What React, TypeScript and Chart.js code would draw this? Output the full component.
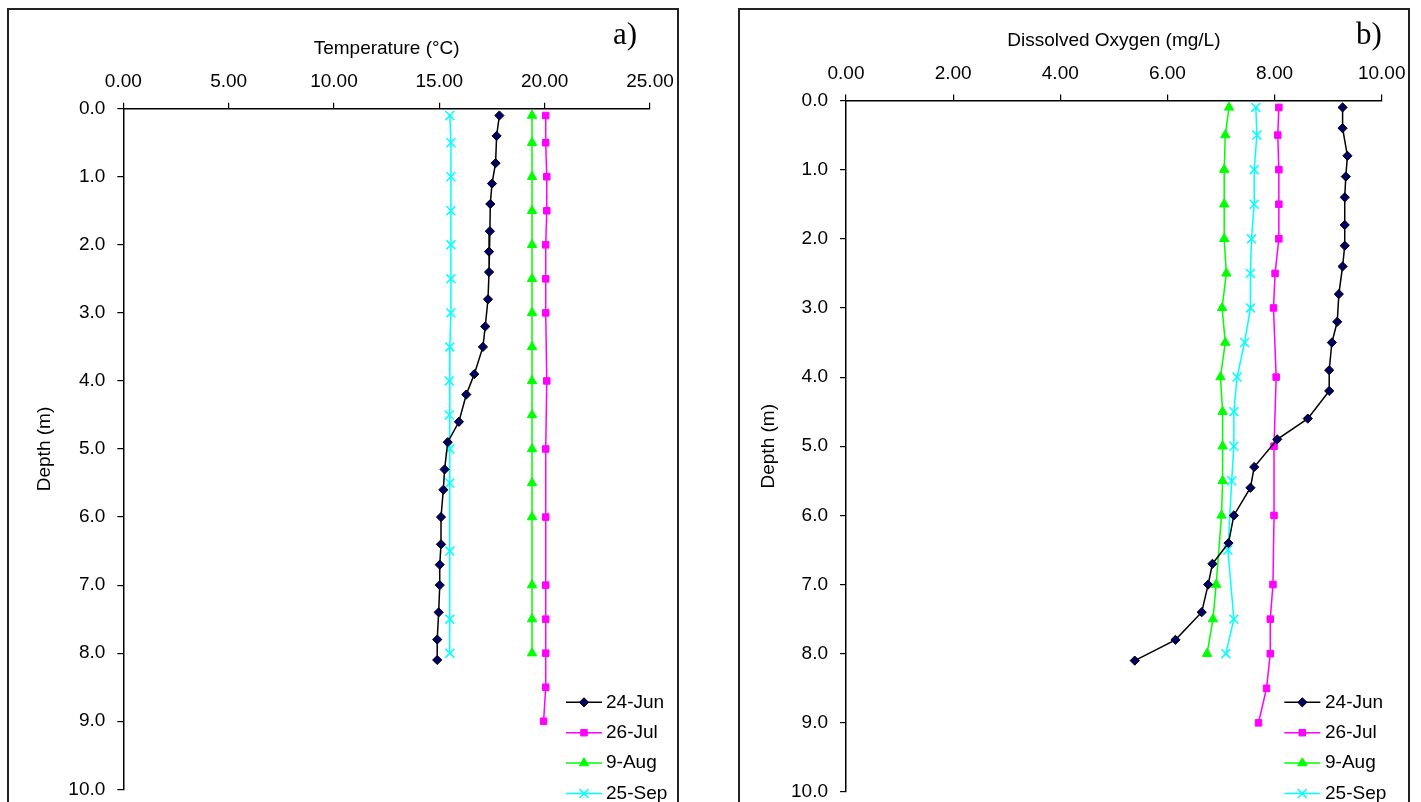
import React, { useEffect, useRef } from "react";
import { Chart, registerables } from "chart.js";
import { drawPoint } from "chart.js/helpers";

Chart.register(...registerables);

// ---------- data ----------
const SERIES_LABELS = ["24-Jun", "26-Jul", "9-Aug", "25-Sep"];

const DEPTH_JUN = [0.1, 0.4, 0.8, 1.1, 1.4, 1.8, 2.1, 2.4, 2.8, 3.2, 3.5, 3.9, 4.2, 4.6, 4.9, 5.3, 5.6, 6.0, 6.4, 6.7, 7.0, 7.4, 7.8, 8.1];
const DEPTH_JUL = [0.1, 0.5, 1.0, 1.5, 2.0, 2.5, 3.0, 4.0, 5.0, 6.0, 7.0, 7.5, 8.0, 8.5, 9.0];
const DEPTH_AUG = [0.1, 0.5, 1.0, 1.5, 2.0, 2.5, 3.0, 3.5, 4.0, 4.5, 5.0, 5.5, 6.0, 7.0, 7.5, 8.0];
const DEPTH_SEP = [0.1, 0.5, 1.0, 1.5, 2.0, 2.5, 3.0, 3.5, 4.0, 4.5, 5.0, 5.5, 6.5, 7.5, 8.0];

const TEMP_JUN = [17.85, 17.72, 17.67, 17.5, 17.42, 17.4, 17.36, 17.36, 17.31, 17.18, 17.07, 16.66, 16.28, 15.93, 15.4, 15.25, 15.19, 15.08, 15.08, 15.02, 15.02, 14.97, 14.9, 14.9];
const TEMP_JUL = [20.05, 20.05, 20.1, 20.1, 20.05, 20.05, 20.05, 20.1, 20.05, 20.05, 20.05, 20.05, 20.05, 20.05, 19.95];
const TEMP_AUG = [19.4, 19.4, 19.4, 19.4, 19.4, 19.4, 19.4, 19.4, 19.4, 19.4, 19.4, 19.4, 19.4, 19.4, 19.4, 19.4];
const TEMP_SEP = [15.5, 15.55, 15.55, 15.55, 15.55, 15.55, 15.55, 15.5, 15.47, 15.47, 15.5, 15.5, 15.5, 15.5, 15.5];

const DO_JUN = [9.27, 9.27, 9.36, 9.33, 9.31, 9.31, 9.31, 9.27, 9.2, 9.17, 9.07, 9.02, 9.02, 8.62, 8.05, 7.62, 7.55, 7.24, 7.14, 6.84, 6.76, 6.64, 6.15, 5.39];
const DO_JUL = [8.08, 8.06, 8.08, 8.08, 8.08, 8.01, 7.98, 8.03, 7.99, 7.99, 7.97, 7.92, 7.92, 7.85, 7.7];
const DO_AUG = [7.15, 7.08, 7.06, 7.06, 7.06, 7.1, 7.02, 7.08, 6.99, 7.03, 7.03, 7.03, 7.01, 6.91, 6.85, 6.74];
const DO_SEP = [7.65, 7.67, 7.62, 7.62, 7.57, 7.55, 7.55, 7.44, 7.3, 7.24, 7.24, 7.2, 7.13, 7.24, 7.09];

const TEMP_TICKS = { min: 0, max: 25, step: 5 };
const DO_TICKS = { min: 0, max: 10, step: 2 };
const DEPTH_TICKS = { min: 0, max: 10, step: 1 };

// ---------- styles ----------
const SANS = "'Liberation Sans', Arial, sans-serif";
const CANVAS_H = 840;
const SERIES_STYLE = [
  { line: "#000000", fill: "#000066", border: "#000000", style: "rectRot", radius: 4.6, bw: 1, lw: 1.5 },
  { line: "#FF00FF", fill: "#FF00FF", border: "#FF00FF", style: "rect", radius: 4.6, bw: 1, lw: 1.5 },
  { line: "#00FF00", fill: "#00FF00", border: "#00FF00", style: "triangle", radius: 5.4, bw: 1, lw: 1.5 },
  { line: "#00FFFF", fill: "#00FFFF", border: "#00FFFF", style: "crossRot", radius: 6.3, bw: 1.5, lw: 1.5 },
];

const pts = (xs: number[], ys: number[]) => xs.map((x, i) => ({ x, y: ys[i] }));

const panelDecor = {
  id: "panelDecor",
  afterDraw(chart: any, _args: any, opts: any) {
    const ctx = chart.ctx;
    ctx.save();
    ctx.fillStyle = "#000";
    ctx.font = opts.labelFont;
    ctx.textAlign = "left";
    ctx.textBaseline = "alphabetic";
    ctx.fillText(opts.label, opts.labelX, opts.labelY);
    chart.data.datasets.forEach((ds: any, i: number) => {
      const y = opts.legendTop + i * opts.legendGap;
      const x0 = opts.legendX;
      ctx.strokeStyle = ds.borderColor;
      ctx.lineWidth = ds.borderWidth;
      ctx.beginPath();
      ctx.moveTo(x0, y);
      ctx.lineTo(x0 + opts.legendLine, y);
      ctx.stroke();
      ctx.fillStyle = ds.pointBackgroundColor;
      ctx.strokeStyle = ds.pointBorderColor;
      ctx.lineWidth = ds.pointBorderWidth;
      drawPoint(ctx, { pointStyle: ds.pointStyle, radius: ds.pointRadius, rotation: 0, borderWidth: ds.pointBorderWidth } as any, x0 + opts.legendLine / 2, y);
      ctx.fillStyle = "#000";
      ctx.font = `19px ${SANS}`;
      ctx.textBaseline = "middle";
      ctx.fillText(ds.label, x0 + opts.legendLine + opts.textGap, y);
    });
    ctx.restore();
  },
};

type PanelCfg = {
  left: number;
  width: number;
  xTitle: string;
  xTicks: { min: number; max: number; step: number };
  values: number[][];
  yScaleWidth: number;
  xScaleHeight: number;
  padRight: number;
  chartBottom: number;
  yTitlePad: number;
  xTitlePad: number;
  label: string;
  labelX: number;
  legendX: number;
  textGap: number;
};

const DEPTHS = [DEPTH_JUN, DEPTH_JUL, DEPTH_AUG, DEPTH_SEP];

function Panel({ cfg }: { cfg: PanelCfg }) {
  const ref = useRef<HTMLCanvasElement>(null);
  useEffect(() => {
    if (!ref.current) return;
    const datasets = SERIES_LABELS.map((label, i) => {
      const s = SERIES_STYLE[i];
      return {
        label,
        data: pts(cfg.values[i], DEPTHS[i]),
        showLine: true,
        borderColor: s.line,
        borderWidth: s.lw,
        pointStyle: s.style,
        pointRadius: s.radius,
        pointBackgroundColor: s.fill,
        pointBorderColor: s.border,
        pointBorderWidth: s.bw,
        clip: false,
      };
    });
    const tickFont = { family: SANS, size: 19, lineHeight: 1 };
    const titleFont = { family: SANS, size: 19, lineHeight: 1.2 };
    const chart = new Chart(ref.current, {
      type: "scatter",
      data: { datasets } as any,
      plugins: [panelDecor as any],
      options: {
        animation: false,
        responsive: false,
        devicePixelRatio: 1,
        events: [],
        layout: { padding: { left: 0, top: 0, right: cfg.padRight, bottom: CANVAS_H - cfg.chartBottom } },
        plugins: {
          legend: { display: false },
          tooltip: { enabled: false },
          panelDecor: {
            label: cfg.label,
            labelX: cfg.labelX,
            labelY: 43.5,
            labelFont: `31px 'Liberation Serif', 'Times New Roman', serif`,
            legendX: cfg.legendX,
            legendLine: 36,
            legendTop: 702.3,
            legendGap: 30.4,
            textGap: cfg.textGap,
          },
        } as any,
        scales: {
          x: {
            type: "linear",
            position: "top",
            min: cfg.xTicks.min,
            max: cfg.xTicks.max,
            afterFit: (s: any) => { s.height = cfg.xScaleHeight; },
            ticks: {
              stepSize: cfg.xTicks.step,
              color: "#000",
              font: tickFont,
              padding: 11.5,
              maxRotation: 0,
              callback: (v: any) => Number(v).toFixed(2),
            },
            grid: { display: true, drawOnChartArea: false, drawTicks: true, tickLength: 6, color: "#000", lineWidth: 1.2 },
            border: { display: true, color: "#000", width: 1.5 },
            title: { display: true, text: cfg.xTitle, color: "#000", font: titleFont, padding: { top: cfg.xTitlePad, bottom: 0 } },
          },
          y: {
            type: "linear",
            position: "left",
            reverse: true,
            min: DEPTH_TICKS.min,
            max: DEPTH_TICKS.max,
            afterFit: (s: any) => { s.width = cfg.yScaleWidth; },
            ticks: {
              stepSize: DEPTH_TICKS.step,
              color: "#000",
              font: tickFont,
              padding: 12,
              callback: (v: any) => Number(v).toFixed(1),
            },
            grid: { display: true, drawOnChartArea: false, drawTicks: true, tickLength: 6, color: "#000", lineWidth: 1.2 },
            border: { display: true, color: "#000", width: 1.5 },
            title: { display: true, text: "Depth (m)", color: "#000", font: titleFont, padding: { top: cfg.yTitlePad, bottom: 0 } },
          },
        },
      } as any,
    });
    return () => chart.destroy();
  }, [cfg]);
  return (
    <canvas
      ref={ref}
      width={cfg.width}
      height={CANVAS_H}
      style={{ position: "absolute", left: cfg.left, top: 0, width: cfg.width, height: CANVAS_H }}
    />
  );
}

const PANEL_A: PanelCfg = {
  left: 0,
  width: 700,
  xTitle: "Temperature (°C)",
  xTicks: TEMP_TICKS,
  values: [TEMP_JUN, TEMP_JUL, TEMP_AUG, TEMP_SEP],
  yScaleWidth: 123.3,
  xScaleHeight: 108.7,
  padRight: 50,
  chartBottom: 789.3,
  yTitlePad: 33.6,
  xTitlePad: 37,
  label: "a)",
  labelX: 613,
  legendX: 566,
  textGap: 4,
};

const PANEL_B: PanelCfg = {
  left: 700,
  width: 721,
  xTitle: "Dissolved Oxygen (mg/L)",
  xTicks: DO_TICKS,
  values: [DO_JUN, DO_JUL, DO_AUG, DO_SEP],
  yScaleWidth: 146,
  xScaleHeight: 100.5,
  padRight: 39.3,
  chartBottom: 792,
  yTitlePad: 57.6,
  xTitlePad: 29,
  label: "b)",
  labelX: 656,
  legendX: 584.3,
  textGap: 4.7,
};

export default function App() {
  return (
    <div style={{ position: "fixed", left: 0, top: 0, width: 1421, height: 802, overflow: "hidden", background: "#fff" }}>
      <div style={{ position: "absolute", left: 7, top: 8, width: 672, height: 900, border: "2px solid #222", boxSizing: "border-box" }} />
      <div style={{ position: "absolute", left: 738, top: 8, width: 672, height: 900, border: "2px solid #222", boxSizing: "border-box" }} />
      <Panel cfg={PANEL_A} />
      <Panel cfg={PANEL_B} />
    </div>
  );
}
